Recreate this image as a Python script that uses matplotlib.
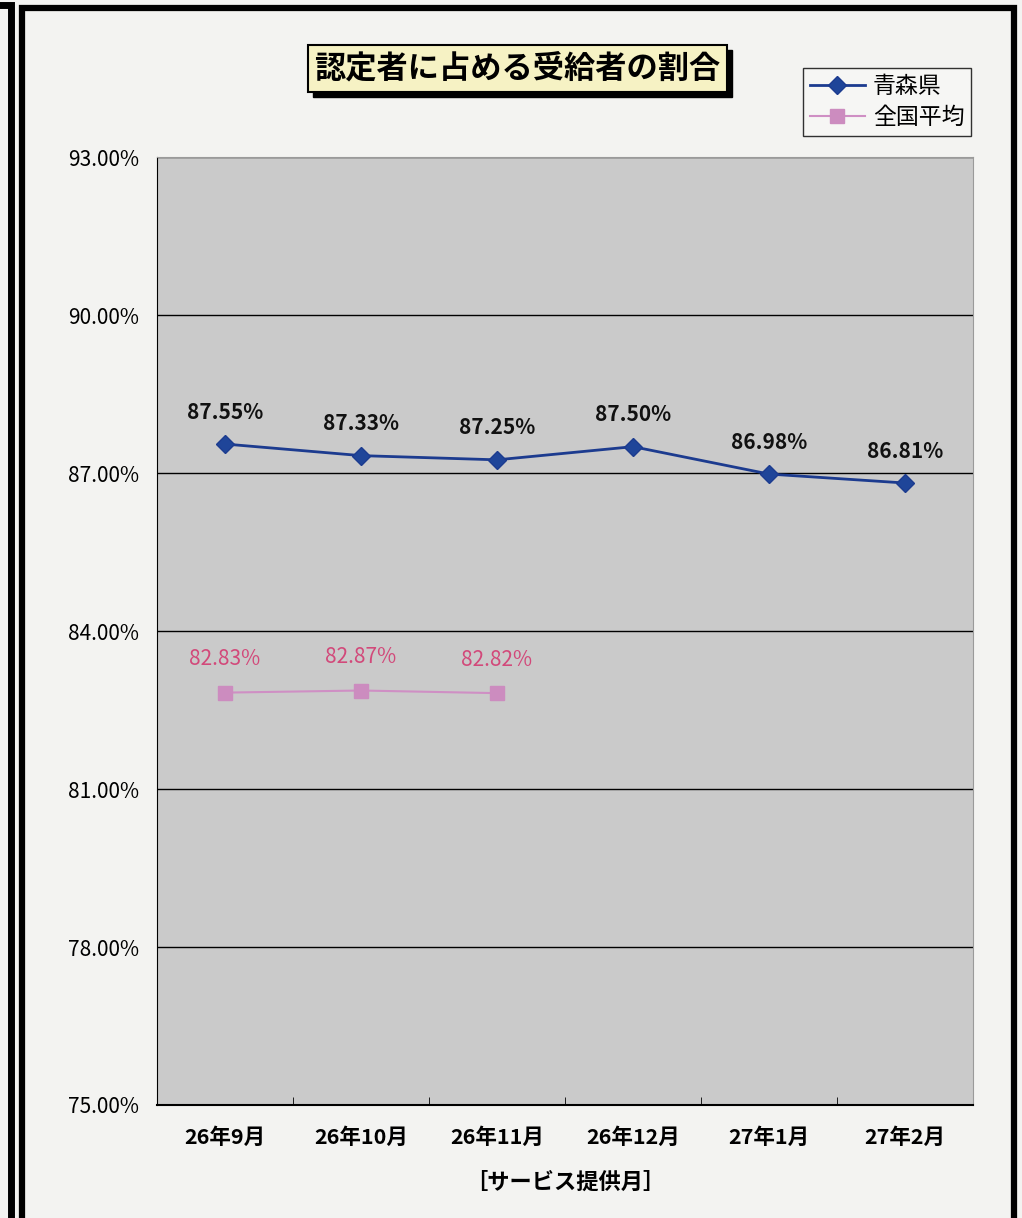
import matplotlib
matplotlib.use("Agg")
import matplotlib.pyplot as plt
from matplotlib.patches import Rectangle
from matplotlib.ticker import FuncFormatter, MultipleLocator

plt.rcParams['font.family'] = ['Noto Sans CJK JP', 'DejaVu Sans']

months = ["26年9月", "26年10月", "26年11月", "26年12月", "27年1月", "27年2月"]
aomori = [87.55, 87.33, 87.25, 87.50, 86.98, 86.81]
national = [82.83, 82.87, 82.82]
aomori_labels = ["87.55%", "87.33%", "87.25%", "87.50%", "86.98%", "86.81%"]
national_labels = ["82.83%", "82.87%", "82.82%"]

W, H = 1022, 1218
fig = plt.figure(figsize=(W / 100, H / 100), dpi=100)
fig.patch.set_facecolor("#f3f3f1")

def px(x0, y0, w, h):
    # pixel box (top-left origin) -> figure fraction
    return [x0 / W, 1 - (y0 + h) / H, w / W, h / H]

# frames of the scanned page
fig.add_artist(Rectangle((22 / W, -0.01), (1014 - 22) / W, 1.01 - 8 / H,
                         transform=fig.transFigure, fill=False, lw=4.5, ec="black"))
fig.add_artist(Rectangle((-0.05, -0.01), 0.05 + 11 / W, 1.01 - 5 / H,
                         transform=fig.transFigure, fill=False, lw=5, ec="black"))

ax = fig.add_axes(px(157, 157, 816, 948))
ax.set_facecolor("#cacaca")
x = range(len(months))

ax.plot(x, aomori, color="#1c3b8f", lw=2, marker="D", ms=9.5,
        mfc="#1f4599", mec="#1c3b8f", label="青森県", zorder=3)
ax.plot(range(len(national)), national, color="#cf8fc4", lw=1.5, marker="s", ms=10,
        mfc="#cc8cbf", mec="#cc8cbf", label="全国平均", zorder=3)

for i, (v, t) in enumerate(zip(aomori, aomori_labels)):
    ax.annotate(t, (i, v), xytext=(0, 23), textcoords="offset points", ha="center",
                va="center", fontsize=15, fontweight="bold", color="#111111")
for i, (v, t) in enumerate(zip(national, national_labels)):
    ax.annotate(t, (i, v), xytext=(0, 24), textcoords="offset points", ha="center",
                va="center", fontsize=15, color="#d2497a")

ax.set_xlim(-0.5, len(months) - 0.5)
ax.set_ylim(75, 93)
ax.yaxis.set_major_locator(MultipleLocator(3))
ax.yaxis.set_major_formatter(FuncFormatter(lambda v, p: f"{v:.2f}%"))
ax.grid(axis="y", color="black", lw=1)
ax.set_axisbelow(True)

ax.set_xticks(x)
ax.set_xticklabels(months, fontsize=15.5, fontweight="bold")
ax.set_xticks([i - 0.5 for i in range(len(months) + 1)], minor=True)
ax.tick_params(axis="x", which="major", length=0, pad=16)
ax.tick_params(axis="x", which="minor", direction="in", length=6, color="black")
ax.tick_params(axis="y", length=0, pad=13, labelsize=15)
ax.set_xlabel("［サービス提供月］", fontsize=16, fontweight="bold", labelpad=16)

for s in ["top", "right"]:
    ax.spines[s].set_color("#9a9a9a")
ax.spines["left"].set_color("black")
ax.spines["bottom"].set_color("black")
ax.spines["bottom"].set_linewidth(1.5)

# title box with shadow
fig.add_artist(Rectangle((313 / W, 1 - 97 / H), 419 / W, 47 / H,
                         transform=fig.transFigure, fc="black", ec="black"))
fig.add_artist(Rectangle((308 / W, 1 - 92 / H), 419 / W, 47 / H,
                         transform=fig.transFigure, fc="#f6f2c4", ec="black", lw=1.5))
fig.text((308 + 419 / 2) / W, 1 - 68.5 / H, "認定者に占める受給者の割合",
         ha="center", va="center", fontsize=22.5, fontweight="bold")

leg = ax.legend(loc="upper left", bbox_to_anchor=(803 / W, 1 - 68 / H),
                bbox_transform=fig.transFigure, fontsize=16.5, frameon=True,
                fancybox=False, edgecolor="black", facecolor="#f7f7f5",
                handlelength=2.4, borderpad=0.3, labelspacing=0.35,
                handletextpad=0.35, borderaxespad=0)
leg.get_frame().set_linewidth(1)

fig.savefig("out.png", dpi=100, facecolor=fig.get_facecolor())
